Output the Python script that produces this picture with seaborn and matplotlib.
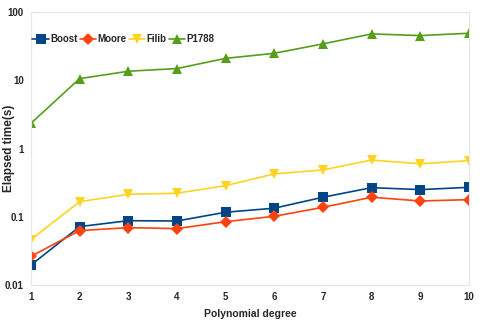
import pandas as pd
import numpy as np
import matplotlib.pyplot as plt
import seaborn as sns

# Data
degrees = [1, 2, 3, 4, 5, 6, 7, 8, 9, 10]
boost = [0.0197, 0.072, 0.088, 0.087, 0.117, 0.134, 0.194, 0.268, 0.251, 0.271]
moore = [0.0264, 0.063, 0.0695, 0.0673, 0.085, 0.102, 0.138, 0.194, 0.171, 0.179]
filib = [0.0464, 0.167, 0.214, 0.222, 0.287, 0.426, 0.487, 0.68, 0.60, 0.667]
p1788 = [2.35, 10.6, 13.6, 14.9, 21.0, 24.9, 34.2, 47.9, 45.3, 49.0]
series_names = ['Boost', 'Moore', 'Filib', 'P1788']

df = pd.DataFrame({
    'Degree': degrees * 4,
    'Time': boost + moore + filib + p1788,
    'Library': [s for s in series_names for _ in degrees],
})

sns.set_style('white')
plt.rcParams['font.family'] = ['Liberation Sans', 'DejaVu Sans']

fig = plt.figure(figsize=(4.91, 3.27), dpi=100)
ax = fig.add_axes([0.063, 0.128, 0.892, 0.835])

palette = {'Boost': '#004586', 'Moore': '#ff420e', 'Filib': '#ffd320', 'P1788': '#579d1c'}
markers = {'Boost': 's', 'Moore': 'D', 'Filib': 'v', 'P1788': '^'}
sns.lineplot(data=df, x='Degree', y='Time', hue='Library', style='Library',
             palette=palette, markers=markers, dashes=False, markersize=6.5,
             markeredgewidth=0, linewidth=1.2, ax=ax)

ax.set_yscale('log')
ax.set_ylim(0.01, 100)
ax.set_xlim(1, 10)
ax.set_xticks(degrees)
ax.set_yticks([0.01, 0.1, 1, 10, 100])
ax.set_yticklabels(['0.01', '0.1', '1', '10', '100'])
ax.minorticks_off()
ax.tick_params(axis='both', length=3, color='#dddddd', labelsize=7, pad=2)
for lab in ax.get_xticklabels() + ax.get_yticklabels():
    lab.set_fontweight('bold')
for sp in ax.spines.values():
    sp.set_color('#e6e6e6')
    sp.set_linewidth(0.8)

ax.set_xlabel('Polynomial degree', fontsize=7.5, fontweight='bold', labelpad=5)
ax.set_ylabel('Elapsed time(s)', fontsize=8.5, fontweight='bold')
ax.yaxis.set_label_coords(-0.036, 0.5)

ax.legend(loc='center left', bbox_to_anchor=(0.003, 0.901), ncol=4, frameon=False,
          prop={'weight': 'bold', 'size': 7}, handlelength=1.7, borderpad=0,
          handletextpad=0.15, columnspacing=0.2, borderaxespad=0)

fig.savefig('out.png', dpi=100)
